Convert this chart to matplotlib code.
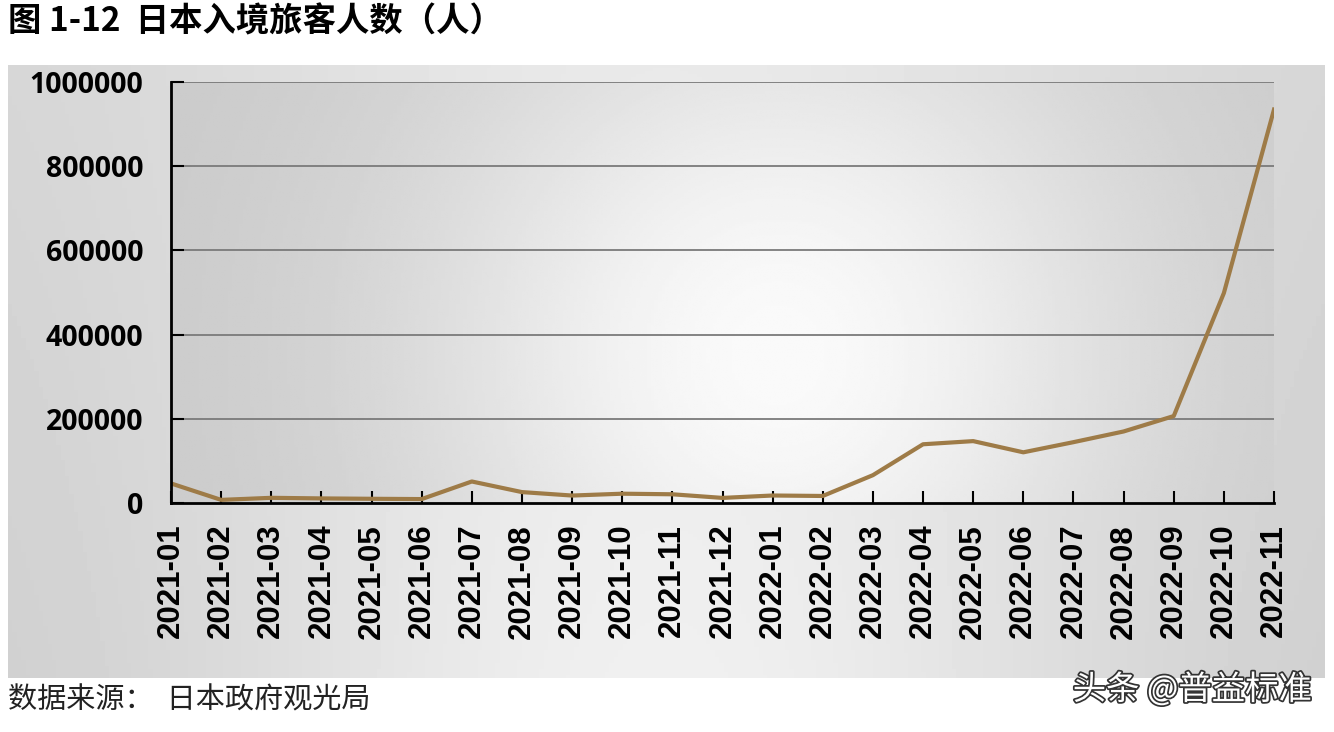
import numpy as np
import matplotlib as mpl
mpl.use('Agg')
import matplotlib.pyplot as plt
import matplotlib.patheffects as pe

plt.rcParams['font.family'] = ['Noto Sans CJK SC', 'DejaVu Sans']

# data
months = ['2021-01', '2021-02', '2021-03', '2021-04', '2021-05', '2021-06',
          '2021-07', '2021-08', '2021-09', '2021-10', '2021-11', '2021-12',
          '2022-01', '2022-02', '2022-03', '2022-04', '2022-05', '2022-06',
          '2022-07', '2022-08', '2022-09', '2022-10', '2022-11']
visitors = [46500, 7400, 12300, 10900, 10000, 9300,
            51100, 25900, 17700, 22100, 20700, 12100,
            17800, 16700, 66100, 139500, 147000, 120400,
            144500, 169900, 206500, 498600, 934500]
yticks = [0, 200000, 400000, 600000, 800000, 1000000]

W, H = 1334, 732
fig = plt.figure(figsize=(W / 100, H / 100), dpi=100)
fig.patch.set_facecolor('white')

# outer gray panel with gradient
bg = fig.add_axes([8 / W, (H - 678) / H, (1325 - 8) / W, (678 - 65) / H], zorder=0)
gx, gy = np.meshgrid(np.linspace(0, 1, 300), np.linspace(0, 1, 200))
panel = 0.80 + 0.14 * np.exp(-((gx - 0.5) / 0.35) ** 2) * (0.6 + 0.4 * gy) + 0.03 * (1 - gy)
bg.imshow(panel, cmap='gray', vmin=0, vmax=1, aspect='auto', extent=[0, 1, 0, 1])
bg.axis('off')

# plot area
ax = fig.add_axes([171 / W, (H - 503) / H, (1274 - 171) / W, (503 - 82) / H], zorder=1)
x = np.arange(len(months))
inner = 0.79 + 0.19 * np.exp(-((gx - 0.55) / 0.33) ** 2 - ((gy - 0.35) / 0.9) ** 2)
ax.imshow(inner, cmap='gray', vmin=0, vmax=1, aspect='auto',
          extent=[0, len(months) - 1, 0, 1000000], zorder=0, origin='lower')

for v in yticks[1:]:
    ax.axhline(v, color='#7a7a7a', lw=1.3, zorder=1)

ax.plot(x, visitors, color='#9e7b47', lw=3, zorder=3)

ax.set_xlim(0, len(months) - 1)
ax.set_ylim(0, 1000000)
ax.set_xticks(x)
ax.set_xticklabels(months, rotation=90, fontsize=22.5, fontweight='bold',
                   family='Liberation Sans')
ax.set_yticks(yticks)
ax.set_yticklabels([str(v) for v in yticks], fontsize=20.5, fontweight='bold',
                   family='Open Sans')
ax.tick_params(axis='both', direction='in', length=9, width=1.5, colors='black')
ax.tick_params(axis='x', pad=15)
ax.tick_params(axis='y', pad=20)
for s in ['top', 'right']:
    ax.spines[s].set_visible(False)
for s in ['left', 'bottom']:
    ax.spines[s].set_linewidth(2)
    ax.spines[s].set_zorder(4)

# title and source
fig.text(8 / W, 1 - 22 / H, '图 1-12  日本入境旅客人数（人）', fontsize=24,
         fontweight='bold', va='center', ha='left')
fig.text(8 / W, 1 - 700 / H, '数据来源：  日本政府观光局', fontsize=21,
         va='center', ha='left', color='#222222')
fig.text(1312 / W, 1 - 690 / H, '头条 @普益标准', fontsize=24, color='white',
         va='center', ha='right',
         path_effects=[pe.withStroke(linewidth=2.5, foreground='#333333')])

fig.savefig('out.png', dpi=100)
